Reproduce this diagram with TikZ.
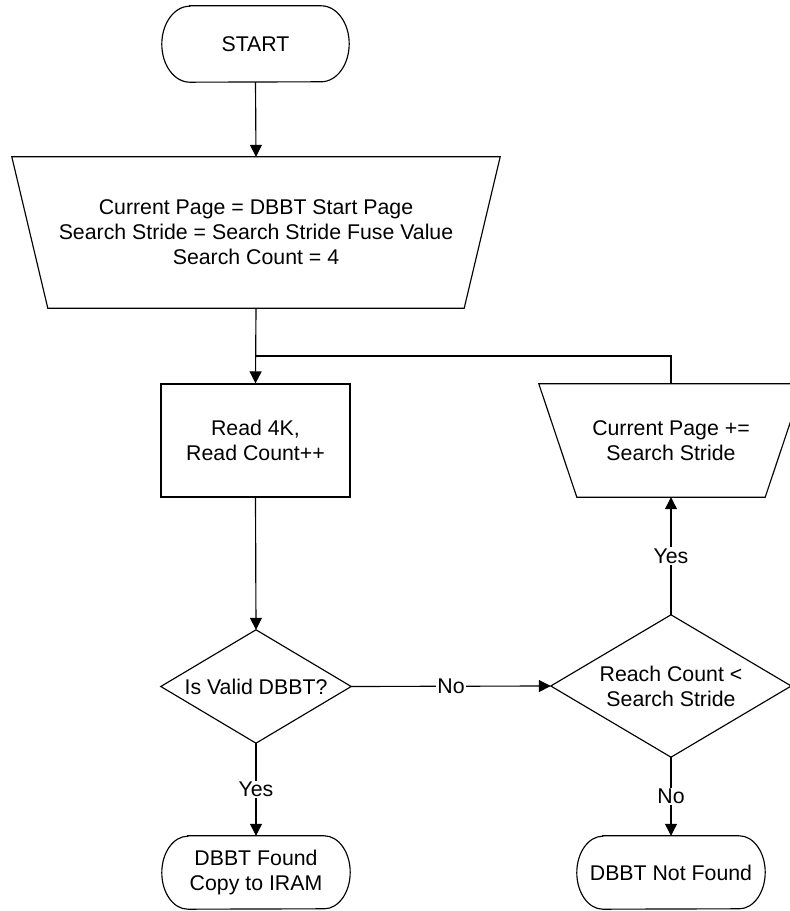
\documentclass[tikz,border=0pt]{standalone}
\usepackage{fontspec}
\setmainfont{Liberation Sans}
\usetikzlibrary{arrows.meta}
\newcommand{\mystadium}[3]{%
  \draw[shapeline] ([xshift=#2pt]#1.north west) -- ([xshift=-#2pt]#1.north east)
    arc[start angle=90,end angle=-90,x radius=#2pt,y radius=#3pt]
    -- ([xshift=#2pt]#1.south west)
    arc[start angle=270,end angle=90,x radius=#2pt,y radius=#3pt] -- cycle;}
\newcommand{\mytrap}[2]{%
  \draw[shapeline] (#1.north west) -- (#1.north east) -- ([xshift=-#2pt]#1.south east)
    -- ([xshift=#2pt]#1.south west) -- cycle;}
\newcommand{\mydiamond}[1]{%
  \draw[shapeline] (#1.north) -- (#1.east) -- (#1.south) -- (#1.west) -- cycle;}
\begin{document}
\begin{tikzpicture}[x=1pt,y=1pt,
  shapeline/.style={line width=1.15pt, line join=miter},
  txt/.style={shape=rectangle, inner sep=0pt, align=center,
    font=\fontsize{21.3}{25}\selectfont},
  conn/.style={line width=1.15pt, -{Triangle[length=12pt,width=12pt]}},
  plain/.style={line width=1.15pt},
  lbl/.style={fill=white, inner sep=1.5pt, font=\fontsize{21.3}{25}\selectfont}]
\fill[white] (0,0) rectangle (790,911);
\useasboundingbox (0,0) rectangle (790,911);

\node[txt, minimum width=187pt, minimum height=76pt] (start) at (255.5,867) {START};
\node[txt, minimum width=488pt, minimum height=151pt] (init) at (256,678.5)
  {Current Page = DBBT Start Page\\Search Stride = Search Stride Fuse Value\\Search Count = 4};
\node[txt, draw, line width=1.15pt, minimum width=189pt, minimum height=113pt] (read) at (255.5,470.5)
  {Read 4K,\\Read Count++};
\node[txt, minimum width=264pt, minimum height=113pt] (upd) at (671,470.5)
  {Current Page +=\\Search Stride};
\node[txt, minimum width=190pt, minimum height=113pt] (valid) at (256,224.5) {Is Valid DBBT?};
\node[txt, minimum width=240pt, minimum height=142pt] (reach) at (671,225)
  {Reach Count <\\Search Stride};
\node[txt, minimum width=188pt, minimum height=73pt] (found) at (256,38.5)
  {DBBT Found\\Copy to IRAM};
\node[txt, minimum width=188pt, minimum height=73pt] (notfound) at (671,38.5)
  {DBBT Not Found};

\mystadium{start}{28}{38}
\mytrap{init}{36}
\mytrap{upd}{38}
\mydiamond{valid}
\mydiamond{reach}
\mystadium{found}{26}{36.5}
\mystadium{notfound}{26}{36.5}

\coordinate (j) at (256,555);
\draw[conn] (start.south) -- (init.north);
\draw[conn] (init.south) -- (read.north);
\draw[plain] (upd.north) |- (j);
\draw[conn] (read.south) -- (valid.north);
\draw[conn] (valid.east) -- node[lbl] {No} (reach.west);
\draw[conn] (valid.south) -- node[lbl] {Yes} (found.north);
\draw[conn] (reach.south) -- node[lbl] {No} (notfound.north);
\draw[conn] (reach.north) -- node[lbl] {Yes} (upd.south);
\end{tikzpicture}
\end{document}
